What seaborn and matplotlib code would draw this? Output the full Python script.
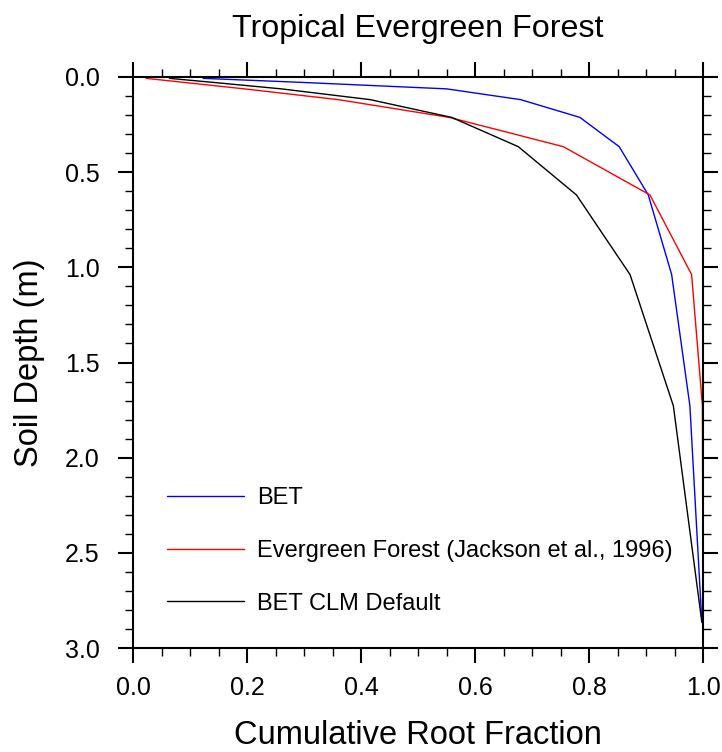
import numpy as np
import pandas as pd
import matplotlib
matplotlib.use("Agg")
import matplotlib.pyplot as plt
import seaborn as sns
from matplotlib.ticker import MultipleLocator, FormatStrFormatter

# Data
depth = [0.0071, 0.0279, 0.0623, 0.1189, 0.2122, 0.3661, 0.6198, 1.0380, 1.7276, 2.8646]
bet = [0.123, 0.293, 0.55, 0.68, 0.784, 0.853, 0.904, 0.945, 0.977, 0.998]
jackson = [0.023, 0.088, 0.195, 0.36, 0.555, 0.755, 0.907, 0.980, 0.999, 1.0]
clm_default = [0.064, 0.139, 0.26, 0.416, 0.559, 0.676, 0.778, 0.872, 0.948, 0.998]
labels = ["BET", "Evergreen Forest (Jackson et al., 1996)", "BET CLM Default"]
colors = ["#0000ff", "#ff0000", "#000000"]

sns.set_style("ticks")
plt.rcParams["font.family"] = ["Liberation Sans", "DejaVu Sans"]
for k in ["text.color", "axes.labelcolor", "xtick.color", "ytick.color", "axes.edgecolor"]:
    plt.rcParams[k] = "black"

frames = []
for lab, vals in zip(labels, [bet, jackson, clm_default]):
    frames.append(pd.DataFrame({"frac": vals, "depth": depth, "series": lab}))
df = pd.concat(frames, ignore_index=True)

fig = plt.figure(figsize=(7.22, 7.52), dpi=100)
ax = fig.add_axes([133/722, 1-648/752, (703-133)/722, (648-77)/752])

sns.lineplot(data=df, x="frac", y="depth", hue="series", hue_order=labels,
             palette=dict(zip(labels, colors)), sort=False, estimator=None,
             linewidth=1.0, ax=ax, legend=True)

ax.set_xlim(0, 1)
ax.set_ylim(3.0, 0.0)
ax.xaxis.set_major_locator(MultipleLocator(0.2))
ax.xaxis.set_minor_locator(MultipleLocator(0.05))
ax.yaxis.set_major_locator(MultipleLocator(0.5))
ax.yaxis.set_minor_locator(MultipleLocator(0.1))
ax.xaxis.set_major_formatter(FormatStrFormatter("%.1f"))
ax.yaxis.set_major_formatter(FormatStrFormatter("%.1f"))

for s in ax.spines.values():
    s.set_linewidth(1.5)
    s.set_visible(True)
ax.tick_params(which="both", direction="out", top=True, right=True, color="black")
ax.tick_params(which="major", length=11, width=1.5, labelsize=18)
ax.tick_params(which="minor", length=6, width=1.0)
ax.tick_params(axis="x", which="major", pad=9)
ax.tick_params(axis="y", which="major", pad=13)

ax.set_xlabel("Cumulative Root Fraction", fontsize=23.5, labelpad=14.5)
ax.set_ylabel("Soil Depth (m)", fontsize=23.5, labelpad=14)
ax.set_title("Tropical Evergreen Forest", fontsize=23.2, pad=29)

leg = ax.legend(loc="center left", bbox_to_anchor=(0.059, 0.170), frameon=False,
                fontsize=17, handlelength=3.27, handletextpad=0.55, labelspacing=1.3,
                borderaxespad=0, borderpad=0)
for h in leg.get_lines():
    h.set_linewidth(1.0)

fig.savefig("out.png", dpi=100)
